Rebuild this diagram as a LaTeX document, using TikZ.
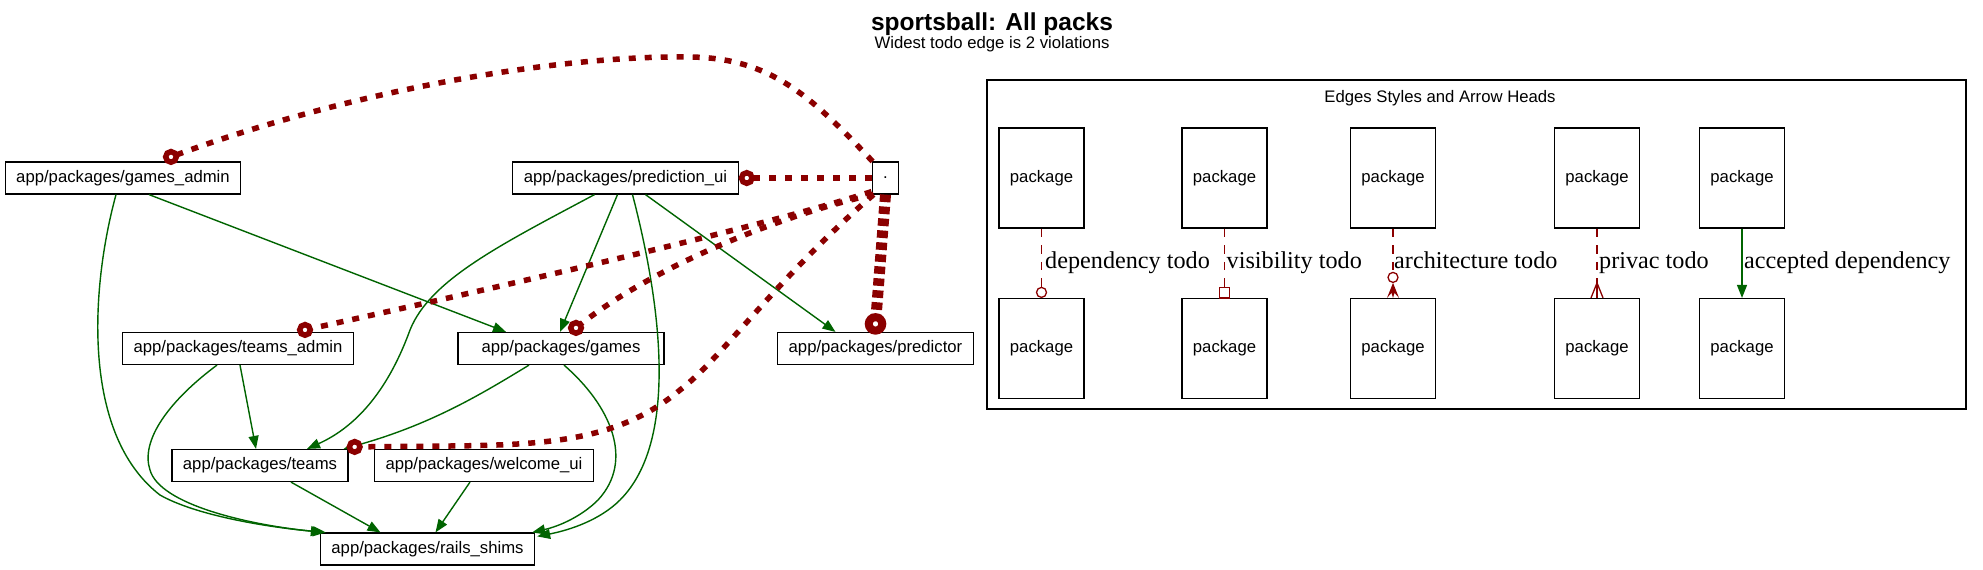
\documentclass[tikz,border=0pt]{standalone}
\usepackage{fontspec}
\setmainfont{Liberation Serif}
\newfontfamily\arialf{Liberation Sans}
\usetikzlibrary{arrows.meta,calc}
\definecolor{dred}{HTML}{8B0000}
\definecolor{dgreen}{HTML}{006400}
\newcommand\pkgfont{\arialf\fontsize{16.7}{20}\selectfont}
\newcommand\lblfont{\fontsize{24.2}{28}\selectfont}
\begin{document}
\begin{tikzpicture}[x=1pt,y=-1pt,
  pkg/.style={draw=black, line width=1.2pt, fill=white, font=\pkgfont, inner xsep=11pt, inner ysep=0pt, minimum height=32pt},
  lpkg/.style={draw=black, line width=1.2pt, fill=white, font=\pkgfont, minimum width=85pt, minimum height=100pt, inner sep=0pt},
  acc/.style={draw=dgreen, line width=1.4pt, -{Triangle[length=13pt,width=10pt]}},
  todo/.style={draw=dred, line width=5.5pt, dash pattern=on 7pt off 9pt},
  todowide/.style={draw=dred, line width=11pt, dash pattern=on 7.5pt off 4.5pt},
  odotc/.style={circle, draw=dred, fill=white, line width=5.5pt, minimum size=10.6pt, inner sep=0pt},
  odotw/.style={circle, draw=dred, fill=white, line width=8pt, minimum size=13.5pt, inner sep=0pt},
  tododash/.style={draw=dred, line width=1.3pt, dash pattern=on 8.3pt off 8.3pt},
  lmark/.style={draw=dred, line width=1.3pt, fill=white},
  lbl/.style={font=\lblfont, anchor=base west, inner sep=0pt}
]
\useasboundingbox (0,0) rectangle (1983,570);
\fill[white] (0,0) rectangle (1983,570);

% titles
\node[anchor=base, inner sep=0pt, font=\arialf\bfseries\fontsize{24.5}{28}\selectfont] (title) at (992,30.5) {sportsball: All packs};
\node[anchor=base, inner sep=0pt, font=\pkgfont] (sub) at (992,48) {Widest todo edge is 2 violations};

% packages
\node[pkg] (ga) at (123,178) {app/packages/games\_admin};
\node[pkg] (pu) at (625.5,178) {app/packages/prediction\_ui};
\node[pkg] (dot) at (885.5,178) {.};
\node[pkg] (ta) at (238,348.5) {app/packages/teams\_admin};
\node[pkg, minimum width=206pt] (gm) at (561,348.5) {app/packages/games};
\node[pkg] (pr) at (875.5,348.5) {app/packages/predictor};
\node[pkg] (tm) at (260,465.5) {app/packages/teams};
\node[pkg] (wu) at (484,465.5) {app/packages/welcome\_ui};
\node[pkg] (rs) at (427.5,549) {app/packages/rails\_shims};

% accepted dependencies
\draw[acc] ($(ga.south)+(-7,0)$) .. controls (90,290) and (82,435) .. (160,495) .. controls (195,515) and (265,527) .. ($(rs.north west)+(6,0)$);
\draw[acc] ($(ga.south)+(26,0)$) -- ($(gm.north)+(-55,0)$);
\draw[acc] ($(pu.south)+(-31,0)$) .. controls (500,245) and (430,280) .. (410,330) .. controls (390,385) and (360,425) .. ($(tm.north)+(47,0)$);
\draw[acc] ($(pu.south)+(-8,0)$) -- ($(gm.north)+(-1,0)$);
\draw[acc] ($(pu.south)+(7,0)$) .. controls (660,300) and (680,440) .. (620,500) .. controls (600,520) and (570,530) .. ($(rs.north east)+(2,4)$);
\draw[acc] ($(pu.south)+(20,0)$) -- ($(pr.north)+(-40,0)$);
\draw[acc] ($(ta.south)+(2,0)$) -- ($(tm.north)+(-4,0)$);
\draw[acc] ($(ta.south)+(-21,0)$) .. controls (170,400) and (140,440) .. (150,470) .. controls (160,505) and (250,525) .. ($(rs.north west)+(4,0)$);
\draw[acc] ($(gm.south)+(-32,0)$) .. controls (480,395) and (430,425) .. ($(tm.north east)+(-5,0)$);
\draw[acc] ($(gm.south)+(3,0)$) .. controls (610,405) and (635,460) .. (598,500) .. controls (582,516) and (560,526) .. ($(rs.north east)+(-3,0)$);
\draw[acc] ($(tm.south)+(31,0)$) -- ($(rs.north)+(-47,0)$);
\draw[acc] ($(wu.south)+(-14,0)$) -- ($(rs.north)+(8,0)$);

% todo dependencies
\coordinate (ca) at ($(ga.north)+(48,-4.5)$);
\coordinate (cb) at ($(pu.east)+(8,0)$);
\coordinate (cc) at ($(ta.north)+(67,-2)$);
\coordinate (cd) at ($(gm.north)+(15,-4)$);
\coordinate (ce) at ($(pr.north)+(0,-8)$);
\coordinate (cf) at ($(tm.north east)+(6,-2)$);
\draw[todo] ($(dot.north west)+(1,0)$) .. controls (810,95) and (770,58) .. (690,57) .. controls (560,55) and (350,90) .. (ca);
\draw[todo] (dot.west) -- (cb);
\draw[todo] ($(dot.south west)+(0,-3)$) .. controls (790,218) and (600,265) .. (cc);
\draw[todo] ($(dot.south west)+(2,0)$) .. controls (800,210) and (660,260) .. (cd);
\draw[todowide] (dot.south) -- (ce);
\draw[todo] ($(dot.south west)+(2,0)$) .. controls (780,275) and (720,360) .. (680,390) .. controls (620,440) and (550,445) .. (450,446) -- (cf);
\node[odotc] (oa) at (ca) {};
\node[odotc] (ob) at (cb) {};
\node[odotc] (oc) at (cc) {};
\node[odotc] (od) at (cd) {};
\node[odotw] (oe) at (ce) {};
\node[odotc] (of) at (cf) {};

% legend
\draw[line width=1.2pt] (987,80) rectangle (1966,409);
\node[anchor=base, inner sep=0pt, font=\pkgfont] (lt) at (1440,102) {Edges Styles and Arrow Heads};
\node[lpkg] (l1t) at (1041.5,178) {package};
\node[lpkg] (l1b) at (1041.5,348.5) {package};
\node[lpkg] (l2t) at (1224.5,178) {package};
\node[lpkg] (l2b) at (1224.5,348.5) {package};
\node[lpkg] (l3t) at (1393,178) {package};
\node[lpkg] (l3b) at (1393,348.5) {package};
\node[lpkg] (l4t) at (1597,178) {package};
\node[lpkg] (l4b) at (1597,348.5) {package};
\node[lpkg] (l5t) at (1742,178) {package};
\node[lpkg] (l5b) at (1742,348.5) {package};

\draw[tododash] (l1t.south) -- ($(l1b.north)+(0,-11)$);
\draw[lmark] ($(l1b.north)+(0,-5.5)$) circle (5pt);
\node[lbl] at ($(l1t.south)+(3.5,39.5)$) {dependency todo};

\draw[tododash] (l2t.south) -- ($(l2b.north)+(0,-11)$);
\draw[lmark] ($(l2b.north)+(-5,-10.5)$) rectangle ($(l2b.north)+(5,0)$);
\node[lbl] at ($(l2t.south)+(2,39.5)$) {visibility todo};

\draw[tododash] (l3t.south) -- ($(l3b.north)+(0,-25.5)$);
\draw[lmark] ($(l3b.north)+(0,-20.5)$) circle (5pt);
\fill[dred] ($(l3b.north)+(0,-15)$) -- ($(l3b.north)+(6,0)$) -- ($(l3b.north)+(1.5,-5)$) -- ($(l3b.north)+(0,0)$) -- ($(l3b.north)+(-1.5,-5)$) -- ($(l3b.north)+(-6,0)$) -- cycle;
\node[lbl] at ($(l3t.south)+(1,39.5)$) {architecture todo};

\draw[tododash] (l4t.south) -- ($(l4b.north)+(0,-15)$);
\draw[draw=dred, line width=1.3pt] ($(l4b.north)+(-6,0)$) -- ($(l4b.north)+(0,-15)$) -- ($(l4b.north)+(6,0)$);
\draw[draw=dred, line width=1.3pt] ($(l4b.north)+(0,-15)$) -- (l4b.north);
\node[lbl] at ($(l4t.south)+(2,39.5)$) {privac todo};

\draw[acc] (l5t.south) -- (l5b.north);
\node[lbl] at ($(l5t.south)+(2,39.5)$) {accepted dependency};
\end{tikzpicture}
\end{document}
